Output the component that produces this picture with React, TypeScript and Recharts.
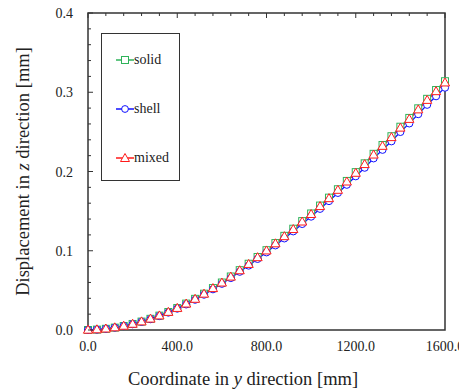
import React from 'react';
import { LineChart, Line, XAxis, YAxis, Legend, ReferenceArea } from 'recharts';

// coordinate along y [mm]
const coordY = [
  0, 40, 80, 120, 160, 200, 240, 280, 320, 360, 400, 440, 480, 520, 560, 600, 640, 680, 720, 760, 800,
  840, 880, 920, 960, 1000, 1040, 1080, 1120, 1160, 1200, 1240, 1280, 1320, 1360, 1400, 1440, 1480, 1520,
  1560, 1600,
];

// displacement in z [mm]
const solid = [
  0, 0.0005, 0.0015, 0.003, 0.005, 0.0076, 0.0106, 0.0141, 0.0181, 0.0227, 0.0277, 0.0333, 0.0393,
  0.0458, 0.0529, 0.0599, 0.0675, 0.0755, 0.0836, 0.0921, 0.1007, 0.1097, 0.1188, 0.1278, 0.1374, 0.147,
  0.157, 0.167, 0.1776, 0.1881, 0.1992, 0.2103, 0.2223, 0.2334, 0.2445, 0.2565, 0.2676, 0.2797, 0.2917,
  0.3028, 0.3139,
];
const shell = [
  0, 0.0005, 0.0015, 0.003, 0.005, 0.0073, 0.0103, 0.0137, 0.0176, 0.022, 0.027, 0.0323, 0.0382, 0.0446,
  0.0514, 0.0583, 0.0656, 0.0735, 0.0813, 0.0897, 0.098, 0.1068, 0.1156, 0.1245, 0.1338, 0.1431, 0.1529,
  0.1627, 0.173, 0.1833, 0.194, 0.2048, 0.2166, 0.2274, 0.2381, 0.2499, 0.2607, 0.2724, 0.2842, 0.295,
  0.3058,
];
const mixed = [
  0, 0.0005, 0.0015, 0.003, 0.005, 0.0075, 0.0105, 0.014, 0.018, 0.0225, 0.0275, 0.033, 0.039, 0.0455,
  0.0525, 0.0595, 0.067, 0.075, 0.083, 0.0915, 0.1, 0.109, 0.118, 0.127, 0.1365, 0.146, 0.156, 0.166,
  0.1765, 0.187, 0.198, 0.209, 0.221, 0.232, 0.243, 0.255, 0.266, 0.278, 0.29, 0.301, 0.312,
];

const xLabels = [0, 400, 800, 1200, 1600];
const xTicks = [0, 80, 160, 240, 320, 400, 480, 560, 640, 720, 800, 880, 960, 1040, 1120, 1200, 1280, 1360, 1440, 1520, 1600];
const yTicks = [
  0, 0.02, 0.04, 0.06, 0.08, 0.1, 0.12, 0.14, 0.16, 0.18, 0.2, 0.22, 0.24, 0.26, 0.28, 0.3, 0.32, 0.34,
  0.36, 0.38, 0.4,
];

const data = coordY.map((y, i) => ({ y, solid: solid[i], shell: shell[i], mixed: mixed[i] }));

const FONT = '"Liberation Serif", "Times New Roman", serif';
const INK = '#222';
const FRAME = '#333';
const GREEN = '#2fb35a';
const BLUE = '#1010ff';
const RED = '#ff1a1a';

const isMajorY = (v: number) => Math.abs(v * 10 - Math.round(v * 10)) < 1e-6;

const SquareDot = (p: any) => (
  <rect key={p.key} x={p.cx - 3.5} y={p.cy - 3.5} width={7} height={7} fill="#fff" stroke={GREEN} strokeWidth={1} />
);
const CircleDot = (p: any) => <circle key={p.key} cx={p.cx} cy={p.cy} r={3.6} fill="#fff" stroke={BLUE} strokeWidth={1} />;
const TriangleDot = (p: any) => (
  <polygon
    key={p.key}
    points={`${p.cx},${p.cy - 4.8} ${p.cx - 4.6},${p.cy + 3.2} ${p.cx + 4.6},${p.cy + 3.2}`}
    fill="#fff"
    stroke={RED}
    strokeWidth={1}
  />
);

const BottomTick = ({ x, y, payload }: any) => (
  <text x={x} y={y + 21} textAnchor="middle" fontFamily={FONT} fontSize={14} fill={INK}>
    {Number(payload.value).toFixed(1)}
  </text>
);

// inward ticks along the top edge
const TopTick = ({ x, y, payload }: any) => {
  const major = payload.value % 400 === 0;
  return <line x1={x} x2={x} y1={y} y2={y + (major ? 5 : 3)} stroke={FRAME} strokeWidth={1} />;
};

const LeftTick = ({ x, y, payload }: any) => {
  const major = isMajorY(payload.value);
  return (
    <g>
      <line x1={x} x2={x + (major ? 5 : 3)} y1={y} y2={y} stroke={FRAME} strokeWidth={1} />
      {major && (
        <text x={x - 15} y={y + 5} textAnchor="end" fontFamily={FONT} fontSize={14} fill={INK}>
          {Number(payload.value).toFixed(1)}
        </text>
      )}
    </g>
  );
};

const XTitle = ({ viewBox }: any) => (
  <text x={viewBox.x + 155} y={viewBox.y + 55} textAnchor="middle" fontFamily={FONT} fontSize={18.5} fill={INK}>
    Coordinate in <tspan fontStyle="italic">y</tspan> direction [mm]
  </text>
);

const YTitle = ({ viewBox }: any) => {
  const cx = viewBox.x + 29;
  const cy = viewBox.y + viewBox.height / 2;
  return (
    <text
      x={cx}
      y={cy}
      transform={`rotate(-90, ${cx}, ${cy})`}
      textAnchor="middle"
      fontFamily={FONT}
      fontSize={18.5}
      fill={INK}
    >
      Displacement in <tspan fontStyle="italic">z</tspan> direction [mm]
    </text>
  );
};

const legendItems = [
  { name: 'solid', color: GREEN, shape: 'square' },
  { name: 'shell', color: BLUE, shape: 'circle' },
  { name: 'mixed', color: RED, shape: 'triangle' },
];

const LegendBox = () => (
  <div
    style={{
      width: 79,
      height: 148,
      border: `1px solid ${FRAME}`,
      boxSizing: 'border-box',
      background: '#fff',
      fontFamily: FONT,
      fontSize: 14,
      color: INK,
      position: 'relative',
    }}
  >
    {legendItems.map((it, i) => (
      <div
        key={it.name}
        style={{ position: 'absolute', left: 14, top: 17 + i * 49, display: 'flex', alignItems: 'center', height: 18 }}
      >
        <svg width={18} height={12}>
          <line x1={0} x2={18} y1={6} y2={6} stroke={it.color} strokeWidth={1.5} />
          {it.shape === 'square' && <rect x={5.5} y={2.5} width={7} height={7} fill="#fff" stroke={it.color} />}
          {it.shape === 'circle' && <circle cx={9} cy={6} r={3.4} fill="#fff" stroke={it.color} />}
          {it.shape === 'triangle' && <polygon points="9,1.5 4.5,9.5 13.5,9.5" fill="#fff" stroke={it.color} />}
        </svg>
        <span>{it.name}</span>
      </div>
    ))}
  </div>
);

export default function App() {
  return (
    <div style={{ position: 'absolute', left: 0, top: 0, background: '#fff' }}>
      <LineChart width={459} height={391} data={data} margin={{ top: 12, right: 14, bottom: 0, left: 0 }}>
        <XAxis
          dataKey="y"
          type="number"
          domain={[0, 1600]}
          ticks={xLabels}
          interval={0}
          height={61}
          tickSize={0}
          tickMargin={0}
          tickLine={false}
          tick={<BottomTick />}
          axisLine={false}
          label={(props: any) => <XTitle {...props} />}
        />
        <XAxis
          xAxisId="top"
          orientation="top"
          dataKey="y"
          type="number"
          domain={[0, 1600]}
          ticks={xTicks}
          interval={0}
          height={1}
          tickSize={0}
          tickMargin={0}
          tickLine={false}
          tick={<TopTick />}
          axisLine={false}
        />
        <YAxis
          type="number"
          domain={[0, 0.4]}
          ticks={yTicks}
          interval={0}
          width={88}
          tickSize={0}
          tickMargin={0}
          tickLine={false}
          tick={<LeftTick />}
          axisLine={false}
          label={(props: any) => <YTitle {...props} />}
        />
        <ReferenceArea
          x1={0}
          x2={1600}
          y1={0}
          y2={0.4}
          fill="none"
          stroke={FRAME}
          strokeWidth={1.5}
          ifOverflow="visible"
        />
        <Legend
          layout="vertical"
          align="center"
          verticalAlign="middle"
          content={<LegendBox />}
          wrapperStyle={{ left: 101, top: 33, width: 79, height: 148 }}
        />
        <Line xAxisId="top" dataKey="solid" stroke="none" dot={false} legendType="none" isAnimationActive={false} />
        <Line dataKey="solid" stroke={GREEN} strokeWidth={1.3} dot={SquareDot} isAnimationActive={false} />
        <Line dataKey="shell" stroke={BLUE} strokeWidth={1.3} dot={CircleDot} isAnimationActive={false} />
        <Line dataKey="mixed" stroke={RED} strokeWidth={1.3} dot={TriangleDot} isAnimationActive={false} />
      </LineChart>
    </div>
  );
}
